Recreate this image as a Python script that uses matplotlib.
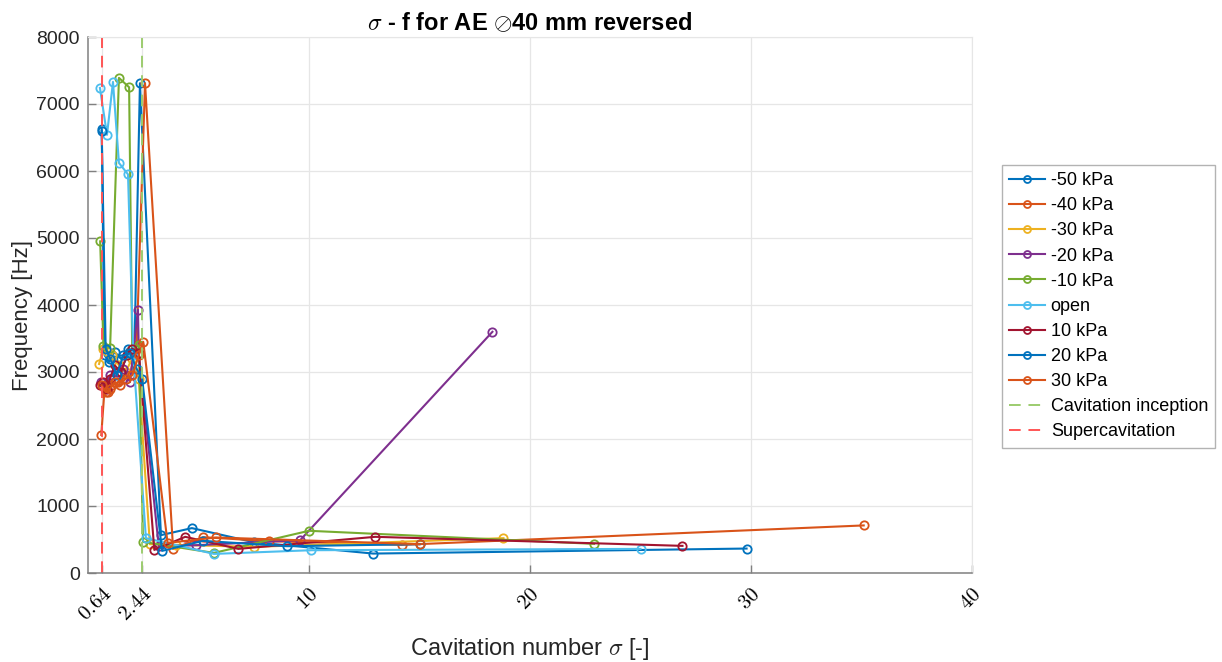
import matplotlib
matplotlib.use("Agg")
import matplotlib.pyplot as plt

plt.rcParams['font.family'] = ['Liberation Sans', 'DejaVu Sans']
plt.rcParams['mathtext.fontset'] = 'cm'

# Cavitation number (x) and dominant frequency in Hz (y) for each pressure setting
sigma_m50 = [0.62, 0.75, 0.95, 1.2, 1.5, 1.8, 2.1, 2.35, 3.3, 4.7, 7.5, 12.9, 29.8]
freq_m50 = [6630, 3250, 3150, 3300, 3200, 3350, 3300, 7310, 565, 670, 460, 290, 365]

sigma_m40 = [0.6, 0.75, 0.9, 1.1, 1.35, 1.6, 1.9, 2.2, 2.58, 3.85, 5.2, 8.2, 14.2, 35.1]
freq_m40 = [2060, 2750, 2700, 2800, 2850, 2900, 2950, 3400, 7310, 360, 535, 475, 420, 710]

sigma_m30 = [0.5, 0.7, 0.9, 1.1, 1.4, 1.7, 2.0, 2.3, 2.8, 4.0, 7.5, 18.8]
freq_m30 = [3120, 3350, 3300, 3250, 3100, 3000, 3200, 2900, 430, 420, 390, 520]

sigma_m20 = [0.6, 0.8, 1.0, 1.3, 1.6, 1.9, 2.26, 2.3, 3.2, 4.9, 9.6, 18.3]
freq_m20 = [2850, 2800, 2950, 3000, 3050, 2850, 3930, 3270, 400, 415, 490, 3600]

sigma_m10 = [0.55, 0.7, 1.0, 1.4, 1.86, 2.0, 2.3, 2.49, 5.7, 10.0, 22.9]
freq_m10 = [4950, 3390, 3360, 7390, 7250, 3350, 3400, 465, 300, 630, 435]

sigma_open = [0.54, 0.86, 1.13, 1.40, 1.81, 2.05, 2.62, 5.7, 10.1, 25.0]
freq_open = [7240, 6540, 7330, 6120, 5950, 3250, 520, 285, 340, 360]

sigma_p10 = [0.55, 0.7, 0.85, 1.0, 1.2, 1.5, 1.75, 2.0, 2.3, 3.0, 4.4, 6.8, 13.0, 26.9]
freq_p10 = [2800, 2850, 2750, 2900, 3100, 3000, 3250, 3350, 3280, 345, 540, 360, 540, 405]

sigma_p20 = [0.62, 0.8, 1.0, 1.3, 1.6, 1.9, 2.2, 2.45, 3.35, 5.2, 9.0, 15.0]
freq_p20 = [6600, 3350, 3200, 2950, 3250, 3280, 3050, 2900, 330, 480, 400, 430]

sigma_p30 = [0.62, 0.8, 1.0, 1.2, 1.45, 1.7, 2.0, 2.3, 2.5, 3.6, 5.8, 15.0]
freq_p30 = [2800, 2700, 2750, 2850, 2800, 2900, 2950, 3250, 3450, 450, 530, 430]

labels = ['-50 kPa', '-40 kPa', '-30 kPa', '-20 kPa', '-10 kPa', 'open',
          '10 kPa', '20 kPa', '30 kPa']
sigmas = [sigma_m50, sigma_m40, sigma_m30, sigma_m20, sigma_m10, sigma_open,
          sigma_p10, sigma_p20, sigma_p30]
freqs = [freq_m50, freq_m40, freq_m30, freq_m20, freq_m10, freq_open,
         freq_p10, freq_p20, freq_p30]
colors = ['#0072BD', '#D95319', '#EDB120', '#7E2F8E', '#77AC30', '#4DBEEE',
          '#A2142F', '#0072BD', '#D95319']

sigma_inception = 2.44
sigma_super = 0.64
xticks = [0.64, 2.44, 10, 20, 30, 40]
xtick_labels = ['0.64', '2.44', '10', '20', '30', '40']
yticks = [0, 1000, 2000, 3000, 4000, 5000, 6000, 7000, 8000]

fig = plt.figure(figsize=(12.22, 6.62), dpi=100)
ax = fig.add_axes([88 / 1222, 89 / 662, 884 / 1222, 536 / 662])

for s, f, c, lab in zip(sigmas, freqs, colors, labels):
    ax.plot(s, f, '-o', color=c, lw=1.5, ms=6, mfc='none', mew=1.3, label=lab)

ax.axvline(sigma_inception, color='#9ccc6f', ls='--', lw=1.4, dashes=(6, 4),
           label='Cavitation inception')
ax.axvline(sigma_super, color='#ff5555', ls='--', lw=1.4, dashes=(6, 4),
           label='Supercavitation')

ax.set_xlim(0, 40)
ax.set_ylim(0, 8000)
ax.set_xticks(xticks)
ax.set_xticklabels([f'${t}$' for t in xtick_labels], rotation=45,
                   ha='right', va='top', rotation_mode='anchor', fontsize=15)
ax.set_yticks(yticks)
ax.tick_params(axis='y', labelsize=14, colors='#262626', pad=6)
ax.tick_params(direction='in', length=6, width=1, color='#808080')
ax.tick_params(axis='x', pad=8)

ax.grid(True, color='#e6e6e6', lw=0.9)
ax.set_axisbelow(True)
for side in ['left', 'bottom']:
    ax.spines[side].set_color('#808080')
    ax.spines[side].set_linewidth(1.1)
for side in ['top', 'right']:
    ax.spines[side].set_color('#e6e6e6')

ax.set_xlabel(r'Cavitation number $\sigma$ [-]', fontsize=17, labelpad=8,
              color='#262626')
ax.set_ylabel('Frequency [Hz]', fontsize=16, color='#262626')
ax.yaxis.set_label_coords(-0.062, 0.48)
ax.set_title(r'$\sigma$ - f for AE $\oslash$40 mm reversed', fontsize=17,
             fontweight='bold', pad=5)

leg = fig.legend(loc='upper left', bbox_to_anchor=(1002 / 1222, 1 - 165 / 662),
                 fontsize=13, frameon=True, fancybox=False, edgecolor='#a0a0a0',
                 handlelength=2.0, handletextpad=0.3, labelspacing=0.45,
                 borderpad=0.4, borderaxespad=0)
leg.get_frame().set_linewidth(1.0)
for h in leg.legend_handles:
    if hasattr(h, 'set_markersize'):
        h.set_markersize(5)

fig.savefig('out.png', dpi=100)
